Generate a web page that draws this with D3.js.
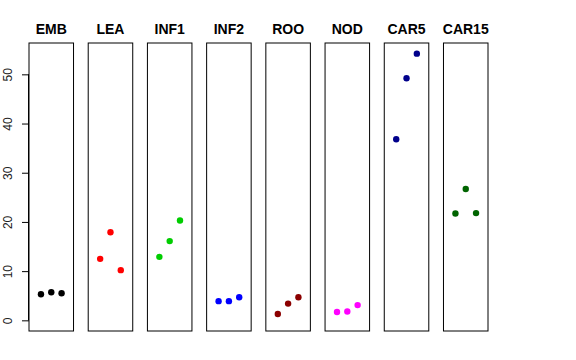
<!DOCTYPE html>
<html>
<head>
<meta charset="utf-8">
<script src="https://cdn.jsdelivr.net/npm/d3@7"></script>
<style>
  body { margin: 0; background: #fff; }
  text { font-family: "Liberation Sans", Arial, sans-serif; }
</style>
</head>
<body>
<div id="chart"></div>
<script>
// tissues and their point colours
const tissues = ['EMB', 'LEA', 'INF1', 'INF2', 'ROO', 'NOD', 'CAR5', 'CAR15'];
const colors = ['#000000', '#ff0000', '#00cd00', '#0000ff', '#8b0000', '#ff00ff', '#00008b', '#006400'];
// three replicates per tissue
const rep1 = [5.3, 12.5, 12.9, 3.9, 1.3, 1.7, 36.8, 21.7];
const rep2 = [5.7, 17.9, 16.1, 3.9, 3.4, 1.8, 49.2, 26.7];
const rep3 = [5.5, 10.2, 20.3, 4.7, 4.7, 3.1, 54.2, 21.8];
const yTicks = [0, 10, 20, 30, 40, 50];

const width = 576, height = 360;
const margin = {top: 43, right: 88, bottom: 29, left: 29};

const data = tissues.map((t, i) => ({
  tissue: t,
  color: colors[i],
  values: [rep1[i], rep2[i], rep3[i]]
}));

const svg = d3.select('#chart').append('svg')
  .attr('width', width)
  .attr('height', height);

const yMax = d3.max(data, d => d3.max(d.values));
// R style 4% extension of [0, max]
const y = d3.scaleLinear()
  .domain([-0.04 * yMax, yMax * 1.04])
  .range([height - margin.bottom, margin.top]);

const panelX = d3.scaleBand()
  .domain(tissues)
  .range([margin.left, width - margin.right])
  .paddingInner(0.248);

const x = d3.scaleLinear()
  .domain([-0.16, 4.16])
  .range([0, panelX.bandwidth()]);

const axisG = svg.append('g')
  .attr('transform', `translate(${margin.left},0)`)
  .call(d3.axisLeft(y).tickValues(yTicks).tickSize(7).tickPadding(6));
axisG.select('.domain')
  .attr('d', `M-0.5,${y(0)}V${y(50)}`)
  .attr('stroke', '#000');
axisG.selectAll('.tick line').attr('stroke', '#000');
axisG.selectAll('.tick text')
  .attr('font-size', 12)
  .attr('fill', '#222')
  .attr('transform', 'rotate(-90)')
  .attr('x', 0)
  .attr('y', -17)
  .attr('dy', 0)
  .attr('text-anchor', 'middle');

const panels = svg.selectAll('g.panel')
  .data(data)
  .join('g')
  .attr('class', 'panel')
  .attr('transform', d => `translate(${panelX(d.tissue)},0)`);

panels.append('rect')
  .attr('x', 0)
  .attr('y', margin.top)
  .attr('width', panelX.bandwidth())
  .attr('height', height - margin.top - margin.bottom)
  .attr('fill', 'none')
  .attr('stroke', '#000')
  .attr('stroke-width', 1);

panels.append('text')
  .attr('x', panelX.bandwidth() / 2)
  .attr('y', 33.5)
  .attr('text-anchor', 'middle')
  .attr('font-weight', 'bold')
  .attr('font-size', 14)
  .text(d => d.tissue);

panels.selectAll('circle')
  .data(d => d.values.map((v, j) => ({v, j, color: d.color})))
  .join('circle')
  .attr('cx', d => x(d.j + 1))
  .attr('cy', d => y(d.v))
  .attr('r', 3.2)
  .attr('fill', d => d.color);
</script>
</body>
</html>
